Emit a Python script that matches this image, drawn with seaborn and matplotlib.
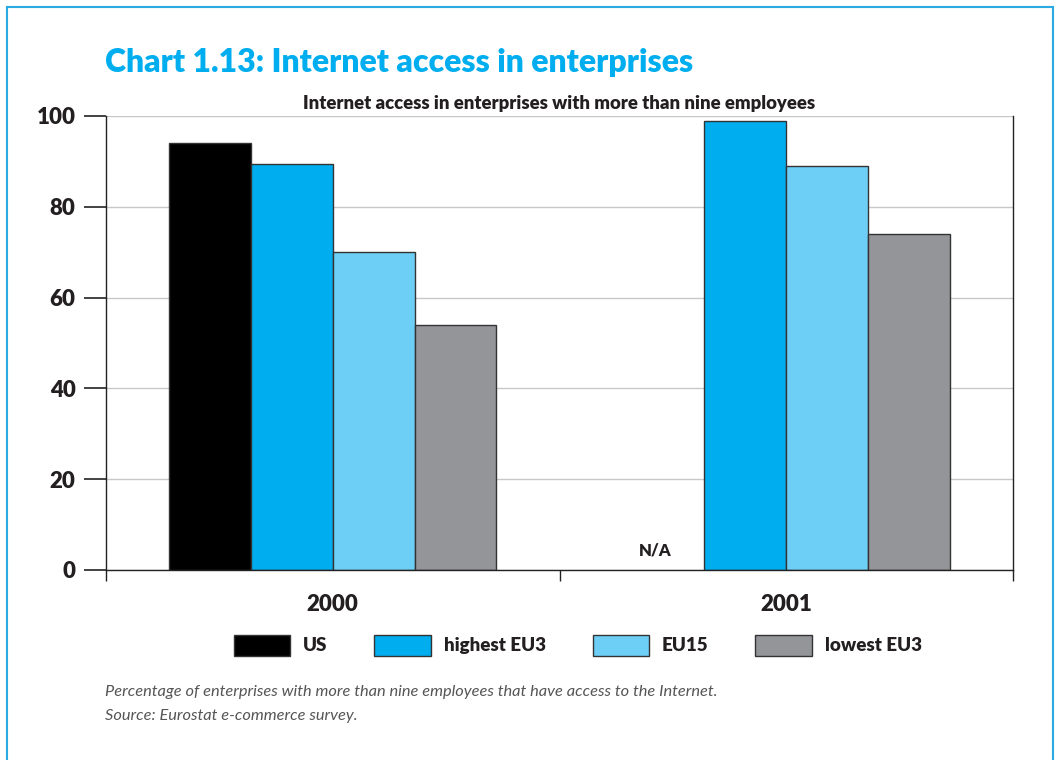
#!/usr/bin/env python3
import matplotlib
matplotlib.use("Agg")
import matplotlib.pyplot as plt
from matplotlib.patches import Rectangle
from matplotlib.ticker import FixedLocator
import seaborn as sns
import pandas as pd

# values
years = ["2000", "2001"]
series = ["US", "highest EU3", "EU15", "lowest EU3"]
us = [94, None]          # no data for the US in 2001
highest_eu3 = [89.5, 99]
eu15 = [70, 89]
lowest_eu3 = [54, 74]
colors = ["#000000", "#00aeef", "#6dcff6", "#939598"]

rows = []
for name, vals in zip(series, [us, highest_eu3, eu15, lowest_eu3]):
    for yr, v in zip(years, vals):
        if v is not None:
            rows.append(dict(year=yr, series=name, value=v))
df = pd.DataFrame(rows)

sns.set_theme(style="white")
plt.rcParams["font.family"] = ["Lato", "DejaVu Sans"]

fig = plt.figure(figsize=(10.6, 7.6), dpi=100)
ax = fig.add_axes([0.1, 0.25, 0.8557, 0.5974])

sns.barplot(data=df, x="year", y="value", hue="series", order=years,
            hue_order=series, palette=colors, width=0.722, saturation=1,
            edgecolor="#333333", linewidth=1.0, ax=ax, legend=True)

ax.set_xlim(-0.5, 1.5)
ax.set_ylim(0, 100)
ax.set_yticks([0, 20, 40, 60, 80, 100])
ax.yaxis.grid(True, color="#c8c8c8", linewidth=1.0)
ax.set_axisbelow(True)
ax.set_xlabel("")
ax.set_ylabel("")

for s in ["left", "bottom", "right"]:
    ax.spines[s].set_visible(True)
    ax.spines[s].set_color("#222222")
    ax.spines[s].set_linewidth(1.0)
ax.spines["top"].set_visible(False)

ax.tick_params(axis="y", direction="out", length=16, width=1.2, color="#222222",
               pad=6, labelsize=16, left=True)
for t in ax.get_yticklabels():
    t.set_fontweight("heavy")
    t.set_color("#231f20")

ax.xaxis.set_minor_locator(FixedLocator([-0.5, 0.5, 1.5]))
ax.tick_params(axis="x", which="minor", direction="out", length=8, width=1.0,
               color="#222222", bottom=True)
ax.tick_params(axis="x", which="major", length=0, pad=17, labelsize=16)
for t in ax.get_xticklabels():
    t.set_fontweight("heavy")
    t.set_color("#231f20")

ax.text(0.71, 2.5, "N/A", fontsize=12, fontweight="heavy", color="#231f20",
        ha="center", va="bottom")

ax.set_title("Internet access in enterprises with more than nine employees",
             fontsize=13.3, fontweight="heavy", color="#231f20", pad=5)

leg = ax.legend(loc="center", bbox_to_anchor=(0.545, 0.151),
                bbox_transform=fig.transFigure, ncol=4, frameon=False,
                handlelength=3.0, handleheight=1.35, columnspacing=2.5,
                handletextpad=0.7, prop=dict(size=13.5, weight="heavy"))
for h in leg.legend_handles:
    h.set_edgecolor("#333333")
    h.set_linewidth(1.0)
for t in leg.get_texts():
    t.set_color("#231f20")

fig.text(0.099, 0.905, "Chart 1.13: Internet access in enterprises",
         fontsize=23, fontweight="heavy", color="#00aeef", ha="left", va="baseline")

fig.text(0.099, 0.089,
         "Percentage of enterprises with more than nine employees that have access to the Internet.",
         fontsize=11.8, style="italic", color="#555555", ha="left", va="center")
fig.text(0.099, 0.058, "Source: Eurostat e-commerce survey.",
         fontsize=11.8, style="italic", color="#555555", ha="left", va="center")

# light blue frame around the panel
fig.patches.append(Rectangle((7 / 1060, -0.01), 1046 / 1060, 1 - 7 / 760 + 0.01,
                             transform=fig.transFigure, fill=False,
                             edgecolor="#29abe2", linewidth=1.5))

fig.savefig("out.png", dpi=100)
